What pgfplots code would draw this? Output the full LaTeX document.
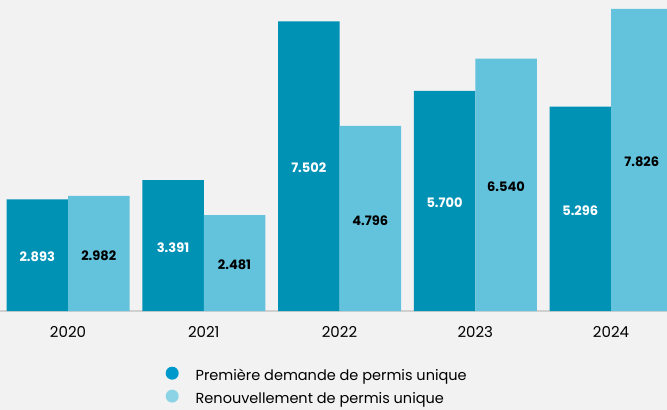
\documentclass[border=0pt]{standalone}
\usepackage{pgfplots}
\pgfplotsset{compat=1.18}
\usepackage{fontspec}
\setmainfont{Poppins}
\definecolor{bg}{RGB}{242,242,242}
\definecolor{darkbar}{RGB}{0,146,181}
\definecolor{lightbar}{RGB}{99,195,221}
\definecolor{darkleg}{RGB}{0,153,204}
\definecolor{lightleg}{RGB}{141,211,230}
\definecolor{axisgrey}{RGB}{208,208,208}
\begin{document}
\begin{tikzpicture}
\fill[bg] (0,-99bp) rectangle (667bp,311bp);
\useasboundingbox (0,-99bp) rectangle (667bp,311bp);
\begin{axis}[
  at={(0,0)}, anchor=south west,
  scale only axis, width=667bp, height=311bp,
  xmin=-0.501, xmax=4.4125, ymin=0, ymax=8.057,
  axis y line=none,
  axis x line*=bottom,
  x axis line style={draw=axisgrey, line width=2bp, -},
  xtick={0,1,2,3,4}, xticklabels={2020,2021,2022,2023,2024},
  major tick length=0pt,
  xticklabel style={anchor=center, yshift=-21bp, font=\fontsize{15bp}{18bp}\selectfont, text=black},
  /pgf/number format/assume math mode=true,
  /pgf/number format/.cd, fixed, precision=3, zerofill, use period,
  /pgfplots/.cd,
  bar width=0.453,
  nodes near coords,
  visualization depends on={y \as \rawy},
  every node near coord/.append style={anchor=center, yshift={-19.3bp*\rawy-1.8bp}, font=\fontsize{13bp}{15bp}\selectfont\bfseries},
  legend style={at={(0.2436,-0.172)}, anchor=north west, draw=none, fill=none,
    font=\fontsize{14.5bp}{16bp}\selectfont, row sep=7.3bp, column sep=0pt,
    nodes={inner sep=0pt}, cells={anchor=west}},
  clip=true,
]
\addplot[ybar, fill=darkbar, draw=none, bar shift=-0.2265,
  every node near coord/.append style={text=white, xshift=-30.75bp},
  legend image code/.code={\fill[darkleg] (6.5bp,0.5ex) circle (6.5bp); \path (0,0) (30bp,0);}]
  coordinates {(0,2.893) (1,3.391) (2,7.502) (3,5.700) (4,5.296)};
\addlegendentry{Première demande de permis unique}
\addplot[ybar, fill=lightbar, draw=none, bar shift=0.2265,
  every node near coord/.append style={text=black, xshift=30.75bp},
  legend image code/.code={\fill[lightleg] (6.5bp,0.5ex) circle (6.5bp); \path (0,0) (30bp,0);}]
  coordinates {(0,2.982) (1,2.481) (2,4.796) (3,6.540) (4,7.826)};
\addlegendentry{Renouvellement de permis unique}
\end{axis}
\end{tikzpicture}
\end{document}
